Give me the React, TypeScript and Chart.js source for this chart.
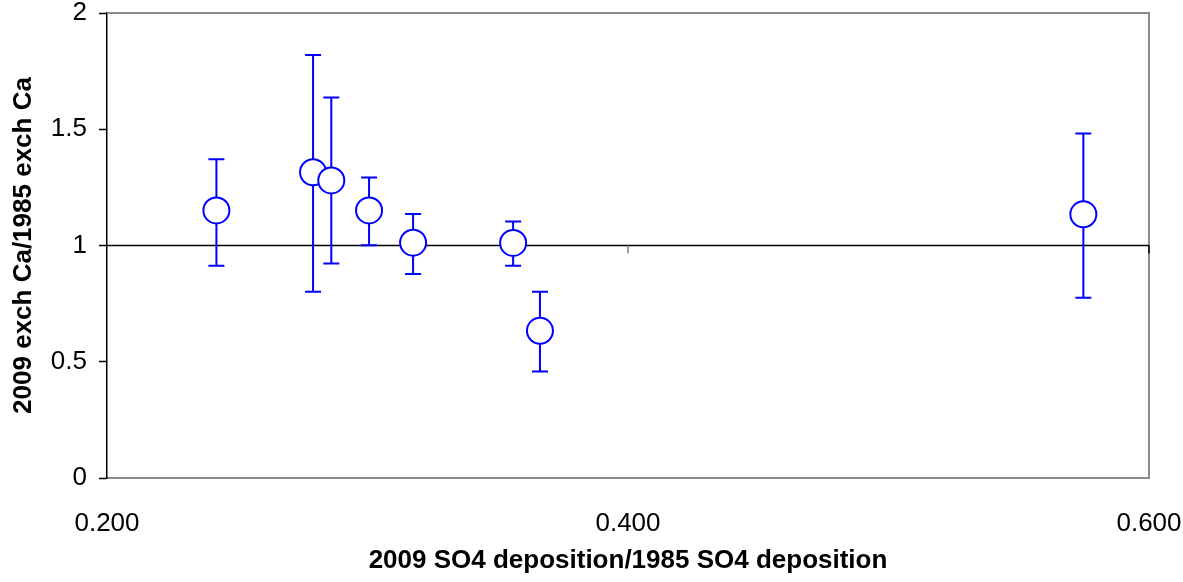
import React, { useEffect, useRef } from "react";
import { Chart, registerables } from "chart.js";

Chart.register(...registerables);

const depositionRatio = [0.242, 0.2791, 0.2861, 0.3006, 0.3175, 0.3559, 0.3662, 0.5748];
const exchCaRatio = [1.151, 1.315, 1.28, 1.151, 1.012, 1.011, 0.633, 1.134];
const errUpper = [1.371, 1.819, 1.637, 1.293, 1.135, 1.103, 0.801, 1.482];
const errLower = [0.913, 0.801, 0.923, 1.001, 0.877, 0.913, 0.458, 0.775];
const xTicks = [0.2, 0.4, 0.6];
const yTicks = [0, 0.5, 1, 1.5, 2];

const BLUE = "#0000FF";
const FONT = "'Liberation Sans', Arial, sans-serif";

const errorBarPlugin = {
  id: "errorBars",
  beforeDatasetsDraw(chart: any) {
    const { ctx, scales, chartArea } = chart;
    const xs = scales.x;
    const ys = scales.y;
    ctx.save();
    // border of plot area
    ctx.strokeStyle = "#8c8c8c";
    ctx.lineWidth = 2;
    ctx.beginPath();
    ctx.moveTo(chartArea.left, chartArea.top);
    ctx.lineTo(chartArea.right, chartArea.top);
    ctx.lineTo(chartArea.right, chartArea.bottom);
    ctx.stroke();
    // horizontal axis crossing at y = 1
    const y1 = ys.getPixelForValue(1);
    ctx.strokeStyle = "#000";
    ctx.lineWidth = 1.5;
    ctx.beginPath();
    ctx.moveTo(chartArea.left, y1);
    ctx.lineTo(chartArea.right, y1);
    ctx.stroke();
    xTicks.forEach((v, i) => {
      if (i === 0) return;
      const px = xs.getPixelForValue(v);
      ctx.strokeStyle = i === xTicks.length - 1 ? "#000" : "#808080";
      ctx.beginPath();
      ctx.moveTo(px, y1);
      ctx.lineTo(px, y1 + 8);
      ctx.stroke();
    });
    // error bars
    ctx.strokeStyle = BLUE;
    ctx.lineWidth = 2;
    depositionRatio.forEach((xv, i) => {
      const px = xs.getPixelForValue(xv);
      const pt = ys.getPixelForValue(errUpper[i]);
      const pb = ys.getPixelForValue(errLower[i]);
      ctx.beginPath();
      ctx.moveTo(px, pt);
      ctx.lineTo(px, pb);
      ctx.moveTo(px - 8, pt);
      ctx.lineTo(px + 8, pt);
      ctx.moveTo(px - 8, pb);
      ctx.lineTo(px + 8, pb);
      ctx.stroke();
    });
    ctx.restore();
  },
};

export default function App() {
  const ref = useRef<HTMLCanvasElement | null>(null);
  useEffect(() => {
    document.body.style.margin = "0";
    const canvas = ref.current;
    if (!canvas) return;
    const chart = new Chart(canvas, {
      type: "scatter",
      data: {
        datasets: [
          {
            data: depositionRatio.map((x, i) => ({ x, y: exchCaRatio[i] })),
            pointRadius: 13,
            pointHoverRadius: 13,
            pointBackgroundColor: "#fff",
            pointBorderColor: BLUE,
            pointBorderWidth: 2,
            showLine: false,
            clip: false,
          },
        ],
      },
      options: {
        animation: false,
        responsive: false,
        events: [],
        layout: { autoPadding: false, padding: 0 },
        plugins: { legend: { display: false }, tooltip: { enabled: false } },
        scales: {
          x: {
            type: "linear",
            min: 0.2,
            max: 0.6,
            afterBuildTicks: (s: any) => {
              s.ticks = xTicks.map((value) => ({ value }));
            },
            afterFit: (s: any) => {
              s.height = 104;
              s.paddingLeft = 0;
              s.paddingRight = 34;
            },
            grid: { display: true, drawOnChartArea: false, drawTicks: false },
            border: { display: true, color: "#8c8c8c", width: 2 },
            ticks: {
              color: "#000",
              padding: 30,
              maxRotation: 0,
              font: { family: FONT, size: 26 },
              callback: (v: any) => Number(v).toFixed(3),
            },
            title: {
              display: true,
              text: "2009 SO4 deposition/1985 SO4 deposition",
              color: "#000",
              font: { family: FONT, size: 26, weight: "bold" },
              padding: { top: 0, bottom: 6 },
            },
          },
          y: {
            type: "linear",
            min: 0,
            max: 2,
            afterBuildTicks: (s: any) => {
              s.ticks = yTicks.map((value) => ({ value }));
            },
            afterFit: (s: any) => {
              s.width = 107;
              s.paddingTop = 13;
              s.paddingBottom = 0;
            },
            grid: {
              drawOnChartArea: false,
              drawTicks: true,
              tickLength: 8,
              tickColor: "#000",
              tickWidth: 1.5,
            },
            border: { display: true, color: "#000", width: 1.5 },
            ticks: {
              color: "#000",
              padding: 12,
              font: { family: FONT, size: 26 },
              callback: (v: any) => String(v),
            },
            title: {
              display: true,
              text: "2009 exch Ca/1985 exch Ca",
              color: "#000",
              font: { family: FONT, size: 26, weight: "bold" },
              padding: { top: 8, bottom: 0 },
            },
          },
        },
      },
      plugins: [errorBarPlugin],
    } as any);
    return () => chart.destroy();
  }, []);
  return (
    <div style={{ position: "absolute", left: 0, top: 0, width: 1183, height: 582, background: "#fff" }}>
      <canvas ref={ref} width={1183} height={582} />
    </div>
  );
}
